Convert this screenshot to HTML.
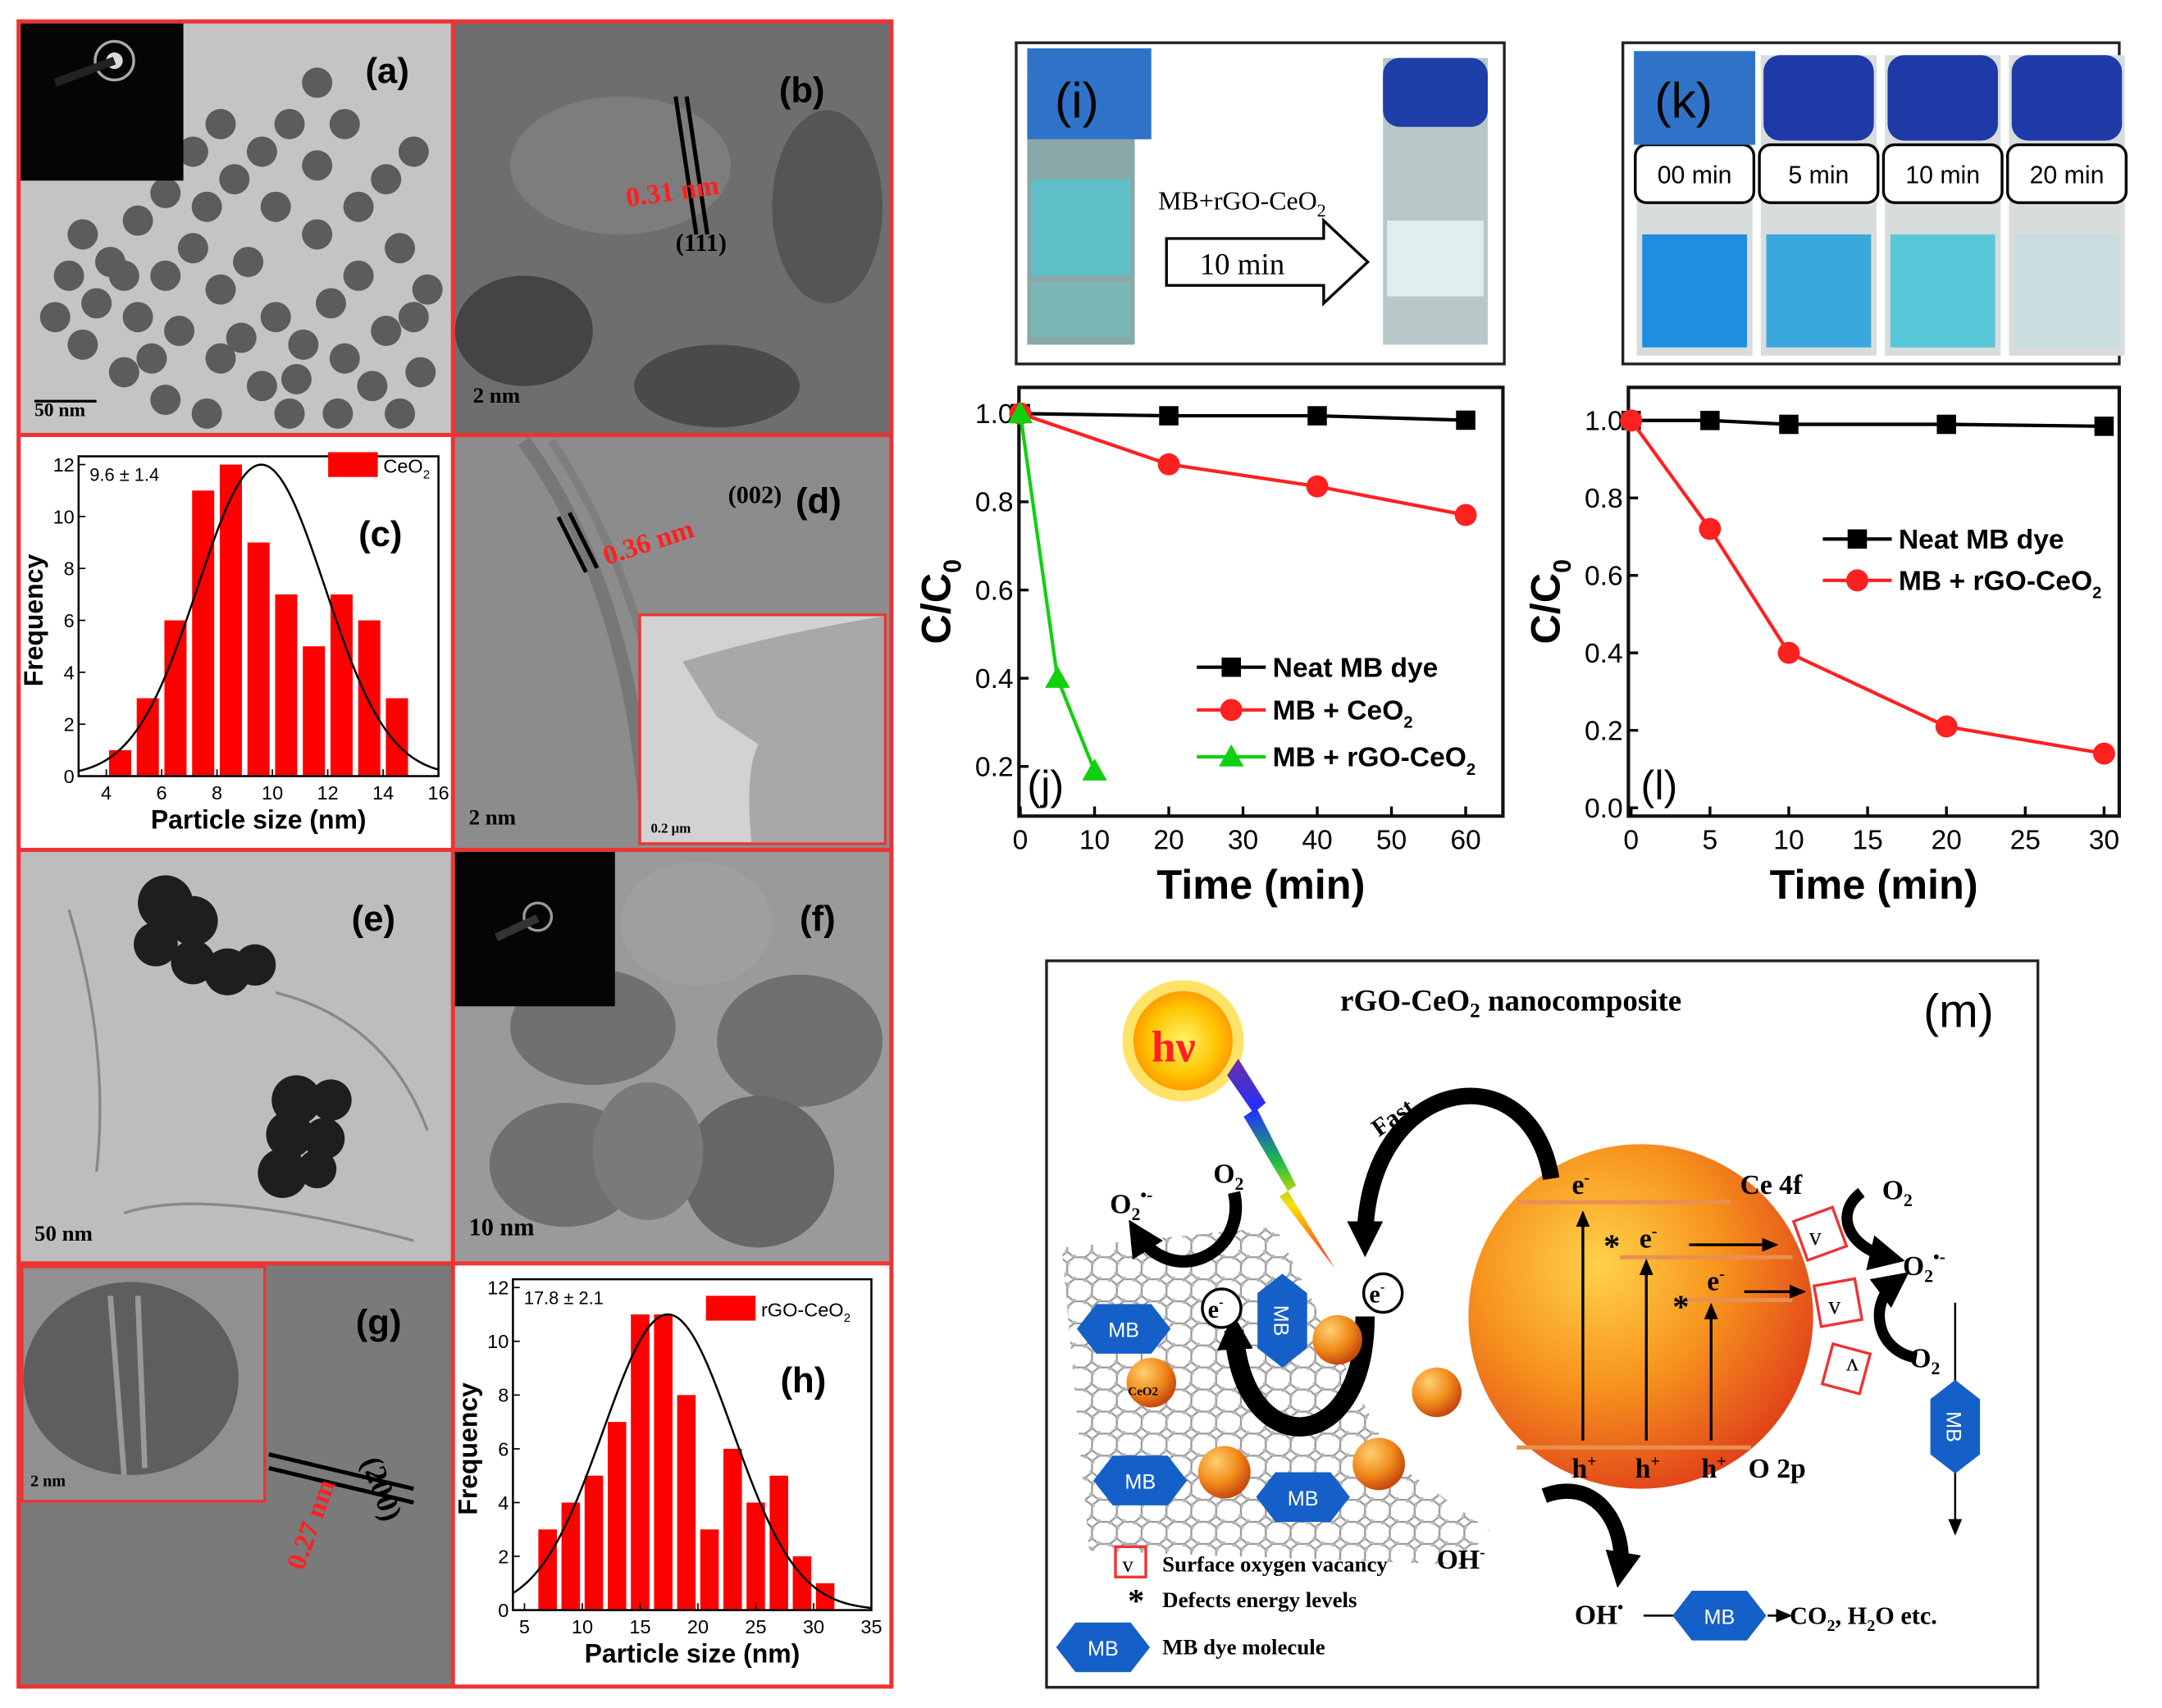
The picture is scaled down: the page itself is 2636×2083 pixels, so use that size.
<!DOCTYPE html>
<html><head><meta charset="utf-8"><style>
html,body{margin:0;padding:0;background:#fff}
svg{display:block}
text{font-family:"Liberation Sans",sans-serif}
.serif,.serif text,.serif tspan{font-family:"Liberation Serif",serif}
</style></head><body>
<svg id="fig" width="2636" height="2083" viewBox="0 0 1568 1239" xmlns="http://www.w3.org/2000/svg">
<defs>
<radialGradient id="sph" cx="0.38" cy="0.35" r="0.7"><stop offset="0" stop-color="#ffd24a"/><stop offset="0.5" stop-color="#f7941d"/><stop offset="1" stop-color="#e0401a"/></radialGradient>
<radialGradient id="ball" cx="0.35" cy="0.3" r="0.7"><stop offset="0" stop-color="#ffcf70"/><stop offset="0.6" stop-color="#f08a1a"/><stop offset="1" stop-color="#c84a10"/></radialGradient>
<radialGradient id="sun" cx="0.5" cy="0.5" r="0.5"><stop offset="0" stop-color="#fff36a"/><stop offset="0.7" stop-color="#ffc400"/><stop offset="1" stop-color="#ff9d00"/></radialGradient>
<linearGradient id="bolt" x1="0" y1="0" x2="0" y2="1"><stop offset="0" stop-color="#7030a0"/><stop offset="0.25" stop-color="#2030ff"/><stop offset="0.5" stop-color="#20c040"/><stop offset="0.7" stop-color="#ffe000"/><stop offset="1" stop-color="#ff2020"/></linearGradient>
<pattern id="hexgrid" width="18" height="16" patternUnits="userSpaceOnUse"><path d="M0 4 L5 0 L13 0 L18 4 M0 4 L0 12 L5 16 L13 16 L18 12 L18 4" fill="none" stroke="#999" stroke-width="1.4"/><circle cx="0" cy="4" r="2" fill="#bbb"/><circle cx="13" cy="0" r="2" fill="#bbb"/><circle cx="18" cy="12" r="2" fill="#bbb"/><circle cx="5" cy="16" r="2" fill="#bbb"/></pattern>
<marker id="ah" markerUnits="userSpaceOnUse" markerWidth="12" markerHeight="10" refX="10" refY="5" orient="auto"><path d="M0 0 L12 5 L0 10 Z" fill="#000"/></marker>
<marker id="ahb" markerUnits="userSpaceOnUse" markerWidth="26" markerHeight="26" refX="14" refY="13" orient="auto"><path d="M0 0 L26 13 L0 26 Z" fill="#000"/></marker>
</defs>

<g>
<rect x="12" y="14" width="636" height="1211" fill="#e33"/>
<rect x="15" y="17" width="312" height="297" fill="#c4c4c4"/>
<g id="blobsA" fill="#4a4a4a" opacity="0.85"></g>
<rect x="15" y="17" width="118" height="114" fill="#050505"/>
<circle cx="83" cy="44" r="14" fill="none" stroke="#aaa" stroke-width="2"/><circle cx="83" cy="44" r="6" fill="#ddd"/>
<line x1="40" y1="60" x2="83" y2="44" stroke="#222" stroke-width="6"/>
<text x="265" y="60" font-size="26" font-weight="bold">(a)</text>
<line x1="25" y1="291" x2="70" y2="291" stroke="#000" stroke-width="2"/><text x="25" y="302" font-size="14" class="serif" font-weight="bold">50 nm</text>
<rect x="330" y="17" width="315" height="297" fill="#6e6e6e"/>
<ellipse cx="380" cy="240" rx="50" ry="40" fill="#444"/><ellipse cx="520" cy="280" rx="60" ry="30" fill="#4a4a4a"/><ellipse cx="600" cy="150" rx="40" ry="70" fill="#555"/><ellipse cx="450" cy="120" rx="80" ry="50" fill="#7d7d7d"/>
<line x1="490" y1="70" x2="505" y2="170" stroke="#000" stroke-width="3"/><line x1="498" y1="70" x2="513" y2="170" stroke="#000" stroke-width="3"/>
<text x="455" y="150" font-size="20" fill="#ff2020" font-weight="bold" class="serif" transform="rotate(-8 455 150)">0.31 nm</text>
<text x="490" y="182" font-size="18" class="serif" font-weight="bold">(111)</text>
<text x="565" y="74" font-size="26" font-weight="bold">(b)</text>
<text x="343" y="292" font-size="16" class="serif" font-weight="bold">2 nm</text>
<rect x="15" y="317" width="312" height="298" fill="#fff"/>
<g id="histC"></g>
<rect x="330" y="317" width="315" height="298" fill="#8c8c8c"/>
<path d="M380 320 Q460 430 470 612" stroke="#777" stroke-width="10" fill="none"/><path d="M400 320 Q480 440 490 612" stroke="#7e7e7e" stroke-width="6" fill="none"/>
<line x1="405" y1="375" x2="425" y2="415" stroke="#000" stroke-width="3"/><line x1="413" y1="372" x2="433" y2="412" stroke="#000" stroke-width="3"/>
<text x="440" y="410" font-size="20" fill="#ff2020" font-weight="bold" class="serif" transform="rotate(-18 440 410)">0.36 nm</text>
<text x="528" y="365" font-size="18" class="serif" font-weight="bold">(002)</text>
<text x="577" y="372" font-size="26" font-weight="bold">(d)</text>
<rect x="463" y="445" width="180" height="168" fill="#e33"/><rect x="465" y="447" width="176" height="164" fill="#d2d2d2"/>
<path d="M495 480 Q560 460 641 447 L641 611 L545 611 Q540 560 550 540 L520 520 Z" fill="#a8a8a8"/>
<text x="340" y="598" font-size="16" class="serif" font-weight="bold">2 nm</text><text x="472" y="604" font-size="10" class="serif" font-weight="bold">0.2 μm</text>
<rect x="15" y="618" width="312" height="297" fill="#bdbdbd"/>
<g fill="#1e1e1e"><circle cx="120" cy="655" r="20"/><circle cx="140" cy="668" r="18"/><circle cx="113" cy="685" r="16"/><circle cx="140" cy="698" r="16"/><circle cx="165" cy="705" r="17"/><circle cx="185" cy="700" r="15"/><circle cx="215" cy="798" r="18"/><circle cx="240" cy="798" r="15"/><circle cx="210" cy="823" r="17"/><circle cx="235" cy="826" r="15"/><circle cx="205" cy="851" r="18"/><circle cx="230" cy="848" r="14"/></g>
<path d="M50 660 Q80 760 70 850 M200 720 Q280 740 310 820 M90 880 Q150 860 300 900" stroke="#888" fill="none" stroke-width="2"/>
<text x="255" y="675" font-size="26" font-weight="bold">(e)</text>
<text x="25" y="900" font-size="16" class="serif" font-weight="bold">50 nm</text>
<rect x="330" y="618" width="315" height="297" fill="#9a9a9a"/>
<g fill="#707070"><ellipse cx="505" cy="670" rx="55" ry="45" fill="#9f9f9f"/><ellipse cx="430" cy="745" rx="60" ry="42"/><ellipse cx="580" cy="755" rx="60" ry="48"/><ellipse cx="410" cy="845" rx="55" ry="45"/><ellipse cx="550" cy="850" rx="55" ry="55" fill="#666"/><ellipse cx="470" cy="835" rx="40" ry="50" fill="#7a7a7a"/></g>
<rect x="330" y="618" width="116" height="112" fill="#050505"/>
<circle cx="390" cy="665" r="10" fill="none" stroke="#999" stroke-width="2"/><line x1="360" y1="680" x2="390" y2="666" stroke="#333" stroke-width="6"/>
<text x="580" y="675" font-size="26" font-weight="bold">(f)</text>
<text x="340" y="896" font-size="18" class="serif" font-weight="bold">10 nm</text>
<rect x="15" y="918" width="312" height="304" fill="#7a7a7a"/>
<rect x="15" y="918" width="178" height="172" fill="#e33"/>
<rect x="17" y="920" width="174" height="168" fill="#909090"/>
<ellipse cx="95" cy="1000" rx="78" ry="70" fill="#5e5e5e"/><path d="M80 940 L90 1070 M100 940 L105 1065" stroke="#999" stroke-width="4"/>
<line x1="195" y1="1055" x2="300" y2="1080" stroke="#000" stroke-width="3"/><line x1="195" y1="1065" x2="300" y2="1090" stroke="#000" stroke-width="3"/>
<text x="220" y="1140" font-size="20" fill="#ff2020" font-weight="bold" class="serif" transform="rotate(-70 220 1140)">0.27 nm</text>
<text x="262" y="1060" font-size="22" class="serif" font-weight="bold" transform="rotate(70 262 1060)">(200)</text>
<text x="258" y="968" font-size="26" font-weight="bold">(g)</text>
<text x="22" y="1078" font-size="12" class="serif" font-weight="bold">2 nm</text>
<rect x="330" y="918" width="315" height="304" fill="#fff"/>
<g id="histH"></g>
</g>

<g>
<rect x="737" y="31" width="354" height="233" fill="#fff" stroke="#222" stroke-width="2"/>
<rect x="745" y="55" width="78" height="195" fill="#8aa8a8"/><rect x="748" y="130" width="72" height="70" fill="#5fc0c8"/><rect x="748" y="205" width="72" height="40" fill="#79b7b5"/>
<rect x="745" y="35" width="90" height="66" fill="#2f73c8"/><text x="765" y="85" font-size="36">(i)</text>
<rect x="1003" y="42" width="76" height="208" fill="#b8c8c8"/><rect x="1003" y="42" width="76" height="50" rx="12" fill="#1f3fa8"/><rect x="1006" y="160" width="70" height="55" fill="#dfeeee"/>
<text x="840" y="152" font-size="19" class="serif">MB+rGO-CeO<tspan font-size="13" dy="5">2</tspan></text>
<path d="M846 173 L960 173 L960 160 L992 190 L960 220 L960 207 L846 207 Z" fill="#fff" stroke="#000" stroke-width="2"/>
<text x="870" y="199" font-size="22" class="serif">10  min</text>
</g>
<g>
<rect x="1177" y="31" width="360" height="233" fill="#fff" stroke="#222" stroke-width="2"/>
<g id="vialsK"></g>
<rect x="1185" y="37" width="88" height="68" fill="#2f73c8"/><text x="1200" y="85" font-size="36">(k)</text>
</g>

<g id="chartJ"></g>
<g id="chartL"></g>

<g>
<rect x="759" y="697" width="719" height="527" fill="#fff" stroke="#222" stroke-width="2"/>
<text x="972" y="733" font-size="22" class="serif" font-weight="bold">rGO-CeO<tspan font-size="15" dy="5">2</tspan><tspan dy="-5"> nanocomposite</tspan></text>
<text x="1395" y="745" font-size="34">(m)</text>
<g><circle cx="858" cy="755" r="44" fill="#ffd000" opacity="0.6"/><circle cx="858" cy="755" r="36" fill="url(#sun)"/><text x="835" y="770" font-size="32" fill="#ff2020" font-weight="bold" class="serif">hν</text></g>
<path d="M898 768 L918 800 L912 805 L940 860 L934 864 L968 920 L928 868 L934 864 L902 810 L908 806 L890 780 Z" fill="url(#bolt)"/>
<polygon points="770,905 925,890 1010,1060 1080,1110 1060,1135 790,1125" fill="url(#hexgrid)"/>
<circle cx="1190" cy="955" r="125" fill="url(#sph)"/>
<g stroke="#e89050" stroke-width="3"><line x1="1100" y1="872" x2="1255" y2="872"/><line x1="1175" y1="912" x2="1300" y2="912"/><line x1="1220" y1="943" x2="1300" y2="943"/><line x1="1100" y1="1050" x2="1270" y2="1050"/></g>
<g stroke="#000" stroke-width="2" marker-end="url(#ah)"><line x1="1148" y1="1045" x2="1148" y2="880"/><line x1="1194" y1="1045" x2="1194" y2="915"/><line x1="1241" y1="1045" x2="1241" y2="947"/><line x1="1225" y1="903" x2="1288" y2="903"/><line x1="1265" y1="937" x2="1308" y2="937"/></g>
<g class="serif" font-size="20" font-weight="bold"><text x="1140" y="866">e<tspan font-size="12" dy="-8">-</tspan></text><text x="1189" y="905">e<tspan font-size="12" dy="-8">-</tspan></text><text x="1238" y="936">e<tspan font-size="12" dy="-8">-</tspan></text><text x="1163" y="912" font-size="24">*</text><text x="1213" y="956" font-size="24">*</text>
<text x="1262" y="866">Ce 4f</text><text x="1140" y="1072">h<tspan font-size="12" dy="-8">+</tspan></text><text x="1186" y="1072">h<tspan font-size="12" dy="-8">+</tspan></text><text x="1234" y="1072">h<tspan font-size="12" dy="-8">+</tspan></text><text x="1268" y="1072">O 2p</text>
<text x="1365" y="870">O<tspan font-size="13" dy="5">2</tspan></text><text x="1380" y="925">O<tspan font-size="13" dy="5">2</tspan><tspan font-size="13" dy="-14">•-</tspan></text><text x="1385" y="992">O<tspan font-size="13" dy="5">2</tspan></text>
<text x="805" y="880">O<tspan font-size="13" dy="5">2</tspan><tspan font-size="13" dy="-14">•-</tspan></text><text x="880" y="858">O<tspan font-size="13" dy="5">2</tspan></text>
<text x="1042" y="1138">OH<tspan font-size="12" dy="-8">-</tspan></text><text x="1142" y="1178">OH<tspan font-size="12" dy="-8">•</tspan></text>
<text x="1298" y="1178" font-size="18">CO<tspan font-size="12" dy="5">2</tspan><tspan dy="-5">, H</tspan><tspan font-size="12" dy="5">2</tspan><tspan dy="-5">O etc.</tspan></text>
<text x="1000" y="825" font-size="18" transform="rotate(-35 1000 825)">Fast</text></g>
<g fill="none" stroke="#e33" stroke-width="2"><rect x="1305" y="880" width="30" height="30" transform="rotate(-20 1320 895)"/><rect x="1318" y="930" width="30" height="30" transform="rotate(-10 1333 945)"/><rect x="1325" y="978" width="28" height="30" transform="rotate(15 1339 993)"/></g>
<g font-size="18" class="serif"><text x="1312" y="903">v</text><text x="1326" y="953">v</text><text x="1330" y="1000" transform="rotate(180 1339 993)">v</text></g>
<g fill="none" stroke="#000" stroke-linecap="butt"><path d="M1125 855 C1110 760 990 780 990 900" stroke-width="12" marker-end="url(#ahb)"/><path d="M895 865 C905 910 850 935 825 895" stroke-width="9" marker-end="url(#ahb)"/><path d="M990 955 C990 1060 900 1060 895 965" stroke-width="14" marker-end="url(#ahb)"/><path d="M1350 865 C1330 880 1340 905 1370 912" stroke-width="8" marker-end="url(#ahb)"/><path d="M1390 985 C1360 980 1355 945 1375 930" stroke-width="8" marker-end="url(#ahb)"/><path d="M1120 1085 C1160 1070 1180 1110 1175 1140" stroke-width="11" marker-end="url(#ahb)"/></g>
<g stroke="#000" stroke-width="1.5"><line x1="1418" y1="945" x2="1418" y2="1112" marker-end="url(#ah)"/><line x1="1192" y1="1172" x2="1215" y2="1172"/><line x1="1282" y1="1172" x2="1298" y2="1172" marker-end="url(#ah)"/></g>
<g fill="#fff" stroke="#000" stroke-width="2"><circle cx="886" cy="949" r="14"/><circle cx="1003" cy="938" r="14"/></g>
<g class="serif" font-size="18" font-weight="bold"><text x="876" y="956">e<tspan font-size="10" dy="-8">-</tspan></text><text x="993" y="945">e<tspan font-size="10" dy="-8">-</tspan></text></g>
<g id="mbHex"></g>
<g><circle cx="970" cy="972" r="18" fill="url(#ball)"/><circle cx="835" cy="1003" r="18" fill="url(#ball)"/><circle cx="1042" cy="1010" r="18" fill="url(#ball)"/><circle cx="888" cy="1068" r="19" fill="url(#ball)"/><circle cx="1000" cy="1062" r="19" fill="url(#ball)"/></g>
<text x="818" y="1012" font-size="9" class="serif" font-weight="bold">CeO2</text>
<rect x="809" y="1122" width="22" height="22" fill="none" stroke="#e33" stroke-width="2"/><text x="814" y="1140" font-size="16" class="serif">v</text>
<g class="serif" font-size="16" font-weight="bold"><text x="843" y="1140">Surface oxygen vacancy</text><text x="818" y="1169" font-size="24">*</text><text x="843" y="1166">Defects energy levels</text><text x="843" y="1200">MB dye molecule</text></g>
</g>

<script>
const histCBins=[4.5,5.5,6.5,7.5,8.5,9.5,10.5,11.5,12.5,13.5,14.5];
const histCCounts=[1,3,6,11,12,9,7,5,7,6,3];
const histCXTicks=[4,6,8,10,12,14,16];
const histCYTicks=[0,2,4,6,8,10,12];
const histHBins=[7,9,11,13,15,17,19,21,23,25,27,29,31];
const histHCounts=[3,4,5,7,11,11,8,3,6,4,5,2,1];
const histHXTicks=[5,10,15,20,25,30,35];
const histHYTicks=[0,2,4,6,8,10,12];
const jTime=[0,20,40,60];
const jNeat=[1.0,0.995,0.995,0.985];
const jCeO2=[1.0,0.885,0.835,0.77];
const jRgoTime=[0,5,10];
const jRgo=[1.0,0.40,0.19];
const jXTicks=[0,10,20,30,40,50,60];
const jYTicks=[0.2,0.4,0.6,0.8,1.0];
const lTime=[0,5,10,20,30];
const lNeat=[1.0,1.0,0.99,0.99,0.985];
const lRgo=[1.0,0.72,0.40,0.21,0.14];
const lXTicks=[0,5,10,15,20,25,30];
const lYTicks=[0.0,0.2,0.4,0.6,0.8,1.0];
const kLabels=['00 min','5 min','10 min','20 min'];
const kColors=['#1e8fe0','#3aa8dc','#58c8d8','#c8dede'];

const NS='http://www.w3.org/2000/svg';
function mk(parent,tag,attrs,txt){const e=document.createElementNS(NS,tag);for(const k in attrs)e.setAttribute(k,attrs[k]);if(txt!==undefined)e.textContent=txt;parent.appendChild(e);return e;}

(function(){const g=document.getElementById('blobsA');
const pts=[[60,170],[80,190],[100,160],[120,200],[140,180],[160,210],[180,190],[200,230],[220,250],[240,220],[150,150],[170,130],[190,110],[210,90],[230,120],[250,260],[270,280],[280,240],[300,230],[100,230],[70,220],[50,200],[130,240],[160,260],[190,280],[210,300],[260,200],[290,180],[310,210],[140,110],[120,140],[230,170],[200,150],[40,230],[60,250],[90,270],[120,290],[150,300],[175,245],[215,275],[245,300],[290,300],[305,270],[260,150],[280,130],[300,110],[230,60],[250,90],[160,90],[90,200],[110,260]];
pts.forEach(p=>{mk(g,'circle',{cx:p[0],cy:p[1],r:11});});})();

function histogram(gid,x0,x1,y0,y1,xmin,xmax,ymax,bins,counts,bw,xt,yt,mean,sd,peak,stat,leg,lab){
 const g=document.getElementById(gid);
 const X=v=>x0+(v-xmin)/(xmax-xmin)*(x1-x0), Y=v=>y0-(v/ymax)*(y0-y1);
 bins.forEach((b,i)=>{const r=mk(g,'rect',{x:X(b-bw/2),y:Y(counts[i]),width:X(b+bw/2)-X(b-bw/2),height:y0-Y(counts[i]),fill:'#ff0000'});
 
 });
 let d='';for(let v=xmin;v<=xmax+0.001;v+=(xmax-xmin)/120){d+=(d?'L':'M')+X(v)+' '+Y(peak*Math.exp(-(v-mean)*(v-mean)/(2*sd*sd)))+' ';}
 const c=mk(g,'path',{d:d,fill:'none',stroke:'#000','stroke-width':1.5});
 
 
 mk(g,'rect',{x:x0,y:y1-6,width:x1-x0,height:y0-y1+6,fill:'none',stroke:'#000','stroke-width':1.5});
 xt.forEach(t=>{mk(g,'line',{x1:X(t),x2:X(t),y1:y0,y2:y0-5,stroke:'#000'});mk(g,'text',{x:X(t),y:y0+17,'font-size':14,'text-anchor':'middle'},t);});
 yt.forEach(t=>{mk(g,'line',{x1:x0,x2:x0+5,y1:Y(t),y2:Y(t),stroke:'#000'});mk(g,'text',{x:x0-3,y:Y(t)+5,'font-size':14,'text-anchor':'end'},t);});
 mk(g,'text',{x:(x0+x1)/2,y:y0+38,'font-size':19,'font-weight':'bold','text-anchor':'middle'},'Particle size (nm)');
 const yl=mk(g,'text',{x:0,y:0,'font-size':19,'font-weight':'bold','text-anchor':'middle',transform:`translate(${x0-26},${(y0+y1)/2}) rotate(-90)`},'Frequency');
 
 
 mk(g,'text',{x:x0+8,y:y1+12,'font-size':13},stat);
 mk(g,'rect',{x:leg[0],y:leg[1],width:36,height:18,fill:'#ff0000'});
 const lt=mk(g,'text',{x:leg[0]+40,y:leg[1]+15,'font-size':14},leg[2]);mk(lt,'tspan',{'font-size':9,dy:4},'2');
 mk(g,'text',{x:lab[0],y:lab[1],'font-size':26,'font-weight':'bold'},lab[2]);
}
histogram('histC',57,318,563,337,3,16,12,histCBins,histCCounts,0.8,histCXTicks,histCYTicks,9.6,2.3,12,'9.6 ± 1.4',[238,328,'CeO'],[260,396,'(c)']);
histogram('histH',372,632,1168,934,4,35,12,histHBins,histHCounts,1.6,histHXTicks,histHYTicks,17.4,5.6,11,'17.8 ± 2.1',[512,940,'rGO-CeO'],[566,1010,'(h)']);

(function(){const g=document.getElementById('vialsK');
 kLabels.forEach((l,i)=>{const x=1187+i*90;
  mk(g,'rect',{x:x,y:40,width:84,height:218,fill:'#d8dcdc'});
  mk(g,'rect',{x:x+2,y:40,width:80,height:62,rx:12,fill:'#1d3aa6'});
  const liq=mk(g,'rect',{x:x+4,y:170,width:76,height:82,fill:kColors[i]});
  
  
  mk(g,'rect',{x:x-1,y:105,width:86,height:42,rx:8,fill:'#fff',stroke:'#000','stroke-width':2});
  mk(g,'text',{x:x+42,y:133,'font-size':18,'text-anchor':'middle'},l);});})();

function lineChart(gid,fx0,fy0,fx1,fy1,xmin,xmax,ymin,ymax,X0,X1,Y0,Y1,xt,yt,ydec,series,legend,lab){
 const g=document.getElementById(gid);
 const X=v=>X0+(v-xmin)/(xmax-xmin)*(X1-X0), Y=v=>Y0-(v-ymin)/(ymax-ymin)*(Y0-Y1);
 mk(g,'rect',{x:fx0,y:fy0,width:fx1-fx0,height:fy1-fy0,fill:'#fff',stroke:'#111','stroke-width':2.5});
 xt.forEach(t=>{mk(g,'line',{x1:X(t),x2:X(t),y1:fy1,y2:fy1-7,stroke:'#000','stroke-width':2});mk(g,'text',{x:X(t),y:fy1+24,'font-size':20,'text-anchor':'middle'},t);});
 yt.forEach(t=>{mk(g,'line',{x1:fx0,x2:fx0+7,y1:Y(t),y2:Y(t),stroke:'#000','stroke-width':2});mk(g,'text',{x:fx0-4,y:Y(t)+7,'font-size':20,'text-anchor':'end'},t.toFixed(ydec));});
 mk(g,'text',{x:(fx0+fx1)/2,y:fy1+60,'font-size':30,'font-weight':'bold','text-anchor':'middle'},'Time (min)');
 const yl=mk(g,'text',{x:0,y:0,'font-size':30,'font-weight':'bold','text-anchor':'middle',transform:`translate(${fx0-50},${(fy0+fy1)/2}) rotate(-90)`},'C/C');
 mk(yl,'tspan',{'font-size':18,dy:8},'0');
 series.forEach(s=>{
  const pl=mk(g,'polyline',{points:s.t.map((t,i)=>X(t)+','+Y(s.v[i])).join(' '),fill:'none',stroke:s.c,'stroke-width':2.5});
  
  
  s.t.forEach((t,i)=>{const cx=X(t),cy=Y(s.v[i]);let m;
   if(s.m==='sq')m=mk(g,'rect',{x:cx-7,y:cy-7,width:14,height:14,fill:s.c});
   else if(s.m==='ci')m=mk(g,'circle',{cx:cx,cy:cy,r:8,fill:s.c});
   else m=mk(g,'polygon',{points:`${cx},${cy-9} ${cx+9},${cy+7} ${cx-9},${cy+7}`,fill:s.c});
   
   });
 });
 legend.forEach((L,i)=>{const y=L.y;mk(g,'line',{x1:L.x,x2:L.x+50,y1:y,y2:y,stroke:L.c,'stroke-width':2.5});
  const cx=L.x+25;if(L.m==='sq')mk(g,'rect',{x:cx-7,y:y-7,width:14,height:14,fill:L.c});else if(L.m==='ci')mk(g,'circle',{cx:cx,cy:y,r:8,fill:L.c});else mk(g,'polygon',{points:`${cx},${y-9} ${cx+9},${y+7} ${cx-9},${y+7}`,fill:L.c});
  const t=mk(g,'text',{x:L.x+55,y:y+7,'font-size':20,'font-weight':'bold'},L.t);if(L.s)mk(t,'tspan',{'font-size':12,dy:6},'2');
  
  });
 mk(g,'text',{x:lab[0],y:lab[1],'font-size':30},lab[2]);
}
lineChart('chartJ',739,281,1090,592,0,60,0.2,1.0,740,1063,556,300,jXTicks,jYTicks,1,
 [{t:jTime,v:jNeat,c:'#000',m:'sq'},{t:jTime,v:jCeO2,c:'#ff2020',m:'ci'},{t:jRgoTime,v:jRgo,c:'#10d010',m:'tr'}],
 [{x:868,y:484,c:'#000',m:'sq',t:'Neat MB dye'},{x:868,y:515,c:'#ff2020',m:'ci',t:'MB + CeO',s:1},{x:868,y:549,c:'#10d010',m:'tr',t:'MB + rGO-CeO',s:1}],[745,580,'(j)']);
lineChart('chartL',1181,281,1537,592,0,30,0.0,1.0,1183,1526,586,305,lXTicks,lYTicks,1,
 [{t:lTime,v:lNeat,c:'#000',m:'sq'},{t:lTime,v:lRgo,c:'#ff2020',m:'ci'}],
 [{x:1322,y:391,c:'#000',m:'sq',t:'Neat MB dye'},{x:1322,y:421,c:'#ff2020',m:'ci',t:'MB + rGO-CeO',s:1}],[1190,580,'(l)']);

(function(){const g=document.getElementById('mbHex');
 const hx=[[815,964,false],[930,958,true],[827,1074,false],[945,1086,false],[1418,1035,true],[1247,1172,false],[800,1195,false]];
 hx.forEach(h=>{const [cx,cy,v]=h;const w=34,hh=18;
  const pts=v?`${cx},${cy-34} ${cx+18},${cy-20} ${cx+18},${cy+20} ${cx},${cy+34} ${cx-18},${cy+20} ${cx-18},${cy-20}`:`${cx-w},${cy} ${cx-20},${cy-hh} ${cx+20},${cy-hh} ${cx+w},${cy} ${cx+20},${cy+hh} ${cx-20},${cy+hh}`;
  const p=mk(g,'polygon',{points:pts,fill:'#1560c8'});
  
  
  mk(g,'text',{x:cx,y:cy+6,'font-size':15,fill:'#fff','text-anchor':'middle',transform:v?`rotate(90 ${cx} ${cy})`:''},'MB');});})();
</script>
</svg>
</body></html>
